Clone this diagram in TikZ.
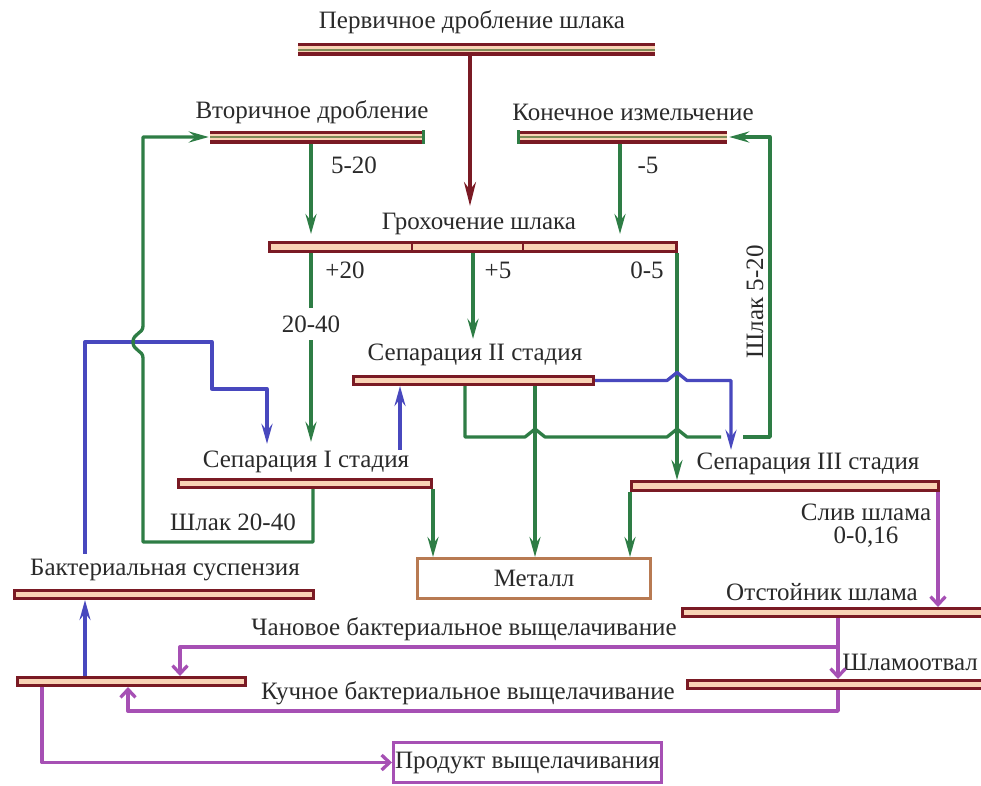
\documentclass[tikz,border=0pt]{standalone}
\usepackage{fontspec}
\setmainfont{Liberation Serif}
\usetikzlibrary{arrows.meta,calc}
\definecolor{cMar}{HTML}{7A1A24}
\definecolor{cPeach}{HTML}{F9D3B5}
\definecolor{cOlive}{HTML}{7D8B57}
\definecolor{cGreen}{HTML}{2E7D45}
\definecolor{cBlue}{HTML}{4848BE}
\definecolor{cPurp}{HTML}{A650B4}
\definecolor{cBrown}{HTML}{B87A52}
\definecolor{cTxt}{HTML}{2A2A2A}
\tikzset{
  txt/.style={font=\fontsize{25}{28}\selectfont, text=cTxt, inner sep=1pt},
  barA/.style={rectangle, inner sep=0pt, minimum height=13pt, fill=cMar,
    path picture={
      \fill[cPeach] ([yshift=-3pt]path picture bounding box.north west) rectangle ([yshift=-5.5pt]path picture bounding box.north east);
      \fill[cOlive] ([yshift=-5.5pt]path picture bounding box.north west) rectangle ([yshift=-7.5pt]path picture bounding box.north east);
      \fill[cPeach] ([yshift=-7.5pt]path picture bounding box.north west) rectangle ([yshift=-9pt]path picture bounding box.north east);
    }},
  barB/.style={rectangle, inner sep=0pt, draw=cMar, line width=3.2pt, fill=cPeach},
  gline/.style={draw=cGreen, line width=3.3pt},
  bline/.style={draw=cBlue, line width=3.3pt},
  pline/.style={draw=cPurp, line width=3.3pt},
  garr/.style={-{Stealth[length=20pt,width=11pt,inset=7pt]}},
  parr/.style={-{Straight Barb[length=8pt,width=15pt]}},
  rarr/.style={-{Stealth[length=24pt,width=12pt,inset=8pt]}},
  boxnode/.style={rectangle, line width=3pt, fill=white, inner sep=0pt}
}
\begin{document}
\begin{tikzpicture}[x=1pt,y=-1pt]
\useasboundingbox (0,0) rectangle (981,785);
\fill[white] (0,0) rectangle (981,785);

% ---- bars ----
\node[barA, minimum width=357pt] (topbar) at (476.5,49.5) {};
\node[barA, minimum width=215pt] (secbar) at (317.5,137) {};
\node[barA, minimum width=210pt] (finbar) at (622,137) {};
\node[barB, minimum width=406.8pt, minimum height=8.8pt] (grohbar) at (473,247) {};
\node[barB, minimum width=239.8pt, minimum height=7.8pt] (s2bar) at (473.5,380.5) {};
\node[barB, minimum width=252.8pt, minimum height=7.8pt] (s1bar) at (305,483.5) {};
\node[barB, minimum width=306.8pt, minimum height=8.8pt] (s3bar) at (785,486) {};
\node[barB, line width=2.6pt, minimum width=299.4pt, minimum height=8.4pt] (bacbar) at (164,594.5) {};
\node[barB, line width=2.6pt, minimum width=228.4pt, minimum height=8.4pt] (leachbar) at (131.5,681.5) {};
\node[barB, minimum width=305.8pt, minimum height=7.8pt] (otstbar) at (835.5,612.5) {};
\node[barB, minimum width=300.8pt, minimum height=7.8pt] (shlambar) at (838,684.5) {};

% green end caps and grohot dividers
\draw[cGreen, line width=3pt] ([xshift=-1.5pt]secbar.north east) -- ([xshift=-1.5pt]secbar.south east);
\draw[cGreen, line width=3pt] ([xshift=1.5pt]finbar.north west) -- ([xshift=1.5pt]finbar.south west);
\coordinate (xd1) at (412,0);
\coordinate (xd2) at (523,0);
\draw[cMar, line width=1.6pt] (grohbar.north -| xd1) -- (grohbar.south -| xd1);
\draw[cMar, line width=1.6pt] (grohbar.north -| xd2) -- (grohbar.south -| xd2);

% ---- boxes ----
\node[boxnode, draw=cBrown, minimum width=233pt, minimum height=40pt, txt] (metal) at (534,578.5) {Металл};
\node[boxnode, draw=cPurp, minimum width=268pt, minimum height=40pt, txt] (product) at (527.5,762.5) {Продукт выщелачивания};

% ---- text labels ----
\node[txt] (tPrim) at (472,22) {Первичное дробление шлака};
\node[txt] (tSec) at (312,112) {Вторичное дробление};
\node[txt] (tFin) at (633,112) {Конечное измельчение};
\node[txt] (tGroh) at (479,224) {Грохочение шлака};
\node[txt] (tS2) at (475,355) {Сепарация II стадия};
\node[txt] (tS1) at (306,462) {Сепарация I стадия};
\node[txt] (tS3) at (808,464) {Сепарация III стадия};
\node[txt] (tBac) at (165,570) {Бактериальная суспензия};
\node[txt] (tOtst) at (822,592) {Отстойник шлама};
\node[txt, anchor=east] (tShlam) at (979,662) {Шламоотвал};
\node[txt] (tChan) at (464,629) {Чановое бактериальное выщелачивание};
\node[txt] (tKuch) at (468,693) {Кучное бактериальное выщелачивание};
\node[txt] (l520) at (354,165) {5-20};
\node[txt] (lm5) at (648,165) {-5};
\node[txt] (lp20) at (345,270) {+20};
\node[txt] (lp5) at (498,270) {+5};
\node[txt] (l05) at (647,270) {0-5};
\node[txt] (lsl2040) at (233,522) {Шлак 20-40};
\node[txt, rotate=90] (lsl520) at (755,302) {Шлак 5-20};
\node[txt] (lsliv) at (866,512) {Слив шлама};
\node[txt] (l016) at (866,537) {0-0,16};

% ---- x positions ----
\coordinate (xRed) at (470,0);
\coordinate (xG1) at (311,0);
\coordinate (xG2) at (620,0);
\coordinate (xP5) at (473,0);
\coordinate (xR) at (677,0);
\coordinate (xB1) at (400,0);
\coordinate (xM1) at (433,0);
\coordinate (xM2) at (535,0);
\coordinate (xM3) at (630,0);
\coordinate (xSl) at (938,0);
\coordinate (xOt) at (838,0);
\coordinate (xBa) at (85,0);
\coordinate (xPr) at (42,0);
\coordinate (xLs) at (313,0);

% ---- red arrow ----
\draw[cMar, line width=3.3pt, rarr] (topbar.south -| xRed) -- ([yshift=6pt]tGroh.north -| xRed);

% ---- green flows from crushers to grohot ----
\draw[gline, garr, shorten >=7pt] (secbar.south -| xG1) -- (grohbar.north -| xG1);
\draw[gline, garr, shorten >=7pt] (finbar.south -| xG2) -- (grohbar.north -| xG2);

% grohot outputs
\draw[gline, garr] (grohbar.south -| xG1) -- ([yshift=8pt]tS1.north -| xG1);
\node[txt, fill=white, inner xsep=2pt, inner ysep=8pt] (l2040) at (311,324) {20-40};
\draw[gline, garr] (grohbar.south -| xP5) -- ([yshift=4pt]tS2.north -| xP5);

% Sep II green loop (with hops)
\coordinate (h1) at (465,437);
\coordinate (hopA) at (535,437);
\coordinate (hopB) at (677,437);
\coordinate (g1end) at (721,437);
\coordinate (g2start) at (743,437);
\coordinate (gR) at (770,437);
\draw[gline, line join=round] (s2bar.south -| h1) -- (h1) -- ([xshift=-10pt]hopA) -- ([yshift=8pt]hopA) -- ([xshift=10pt]hopA)
   -- ([xshift=-10pt]hopB) -- ([yshift=8pt]hopB) -- ([xshift=10pt]hopB) -- (g1end);
\draw[gline, garr, line join=round] (g2start) -- (gR) -- (gR |- finbar.east) -- ([xshift=2pt]finbar.east);

% 0-5 line to Sep III
\draw[gline, garr] (grohbar.south -| xR) -- (s3bar.north -| xR);

% Sep II to metal
\draw[gline, garr] (s2bar.south -| xM2) -- (metal.north -| xM2);

% Blue Sep II -> Sep III with hop
\coordinate (hopC) at (677,380.5);
\coordinate (bR) at (731,380.5);
\draw[bline, garr, line join=round] (s2bar.east) -- ([xshift=-10pt]hopC) -- ([yshift=8pt]hopC) -- ([xshift=10pt]hopC) -- (bR) -- ([yshift=2pt]tS3.north -| bR);

% Blue Sep I -> Sep II
\draw[bline, garr] (tS1.north -| xB1) -- (s2bar.south -| xB1);

% Blue bacterial suspension to Sep I
\coordinate (bl1) at (85,342);
\coordinate (bl2) at (212,342);
\coordinate (bl3) at (212,389);
\coordinate (bl4) at (267,389);
\draw[bline, garr, line join=round] ([yshift=4pt]tBac.north -| xBa) -- (bl1) -- (bl2) -- (bl3) -- (bl4) -- ([yshift=6pt]tS1.north -| bl4);

% Green Sep I loop back to secondary crushing (hop over blue)
\coordinate (ls1) at (313,542);
\coordinate (ls2) at (143,542);
\coordinate (ls3) at (143,358);
\coordinate (ls4) at (143,326);
\draw[gline, garr, line join=round] (s1bar.south -| xLs) -- (ls1) -- (ls2) -- (ls3)
   .. controls (143,350) and (133,351) .. (133,342)
   .. controls (133,333) and (143,334) .. (ls4)
   -- (ls4 |- secbar.west) -- ([xshift=-1pt]secbar.west);

% Sep I and Sep III to metal
\draw[gline, garr] (s1bar.south -| xM1) -- (metal.north -| xM1);
\draw[gline, garr] (s3bar.south -| xM3) -- (metal.north -| xM3);

% Purple flows
\draw[pline, parr] (s3bar.south -| xSl) -- (otstbar.north -| xSl);
\draw[pline, parr] (otstbar.south -| xOt) -- (shlambar.north -| xOt);
\coordinate (pc1) at (838,647);
\coordinate (pc2) at (180,647);
\draw[pline, parr, line join=round] (pc1) -- (pc2) -- (leachbar.north -| pc2);
\coordinate (pk1) at (838,711);
\coordinate (pk2) at (128,711);
\draw[pline, parr, line join=round] (shlambar.south -| xOt) -- (pk1) -- (pk2) -- (leachbar.south -| pk2);
\draw[pline, parr, line join=round] (leachbar.south -| xPr) -- (xPr |- product.west) -- (product.west);

% Blue leaching -> bacterial suspension
\draw[bline, garr] (leachbar.north -| xBa) -- (bacbar.south -| xBa);
\end{tikzpicture}
\end{document}
